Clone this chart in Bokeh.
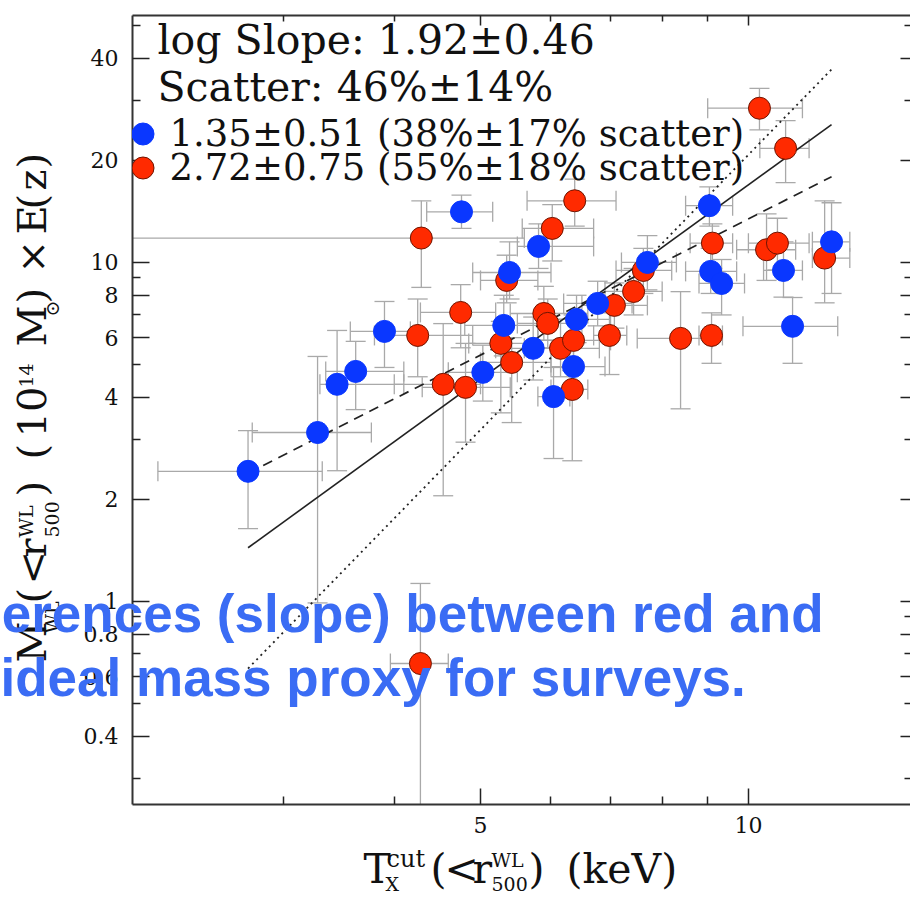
import math
from bokeh.plotting import figure
from bokeh.models import (Range1d, LogAxis, FixedTicker, Label, Legend, LegendItem,
                          ColumnDataSource)
from bokeh.embed import file_html
from bokeh.resources import INLINE

# ---------------- data ----------------
T_blue = [2.74, 3.28, 3.45, 3.62, 3.90, 4.76, 5.03, 5.31, 5.39, 5.73, 5.81, 6.04, 6.36, 6.41, 6.77, 7.70,
          9.04, 9.07, 9.33, 10.95, 11.21, 12.40]
M_blue = [2.42, 3.15, 4.37, 4.77, 6.26, 14.1, 4.74, 6.52, 9.34, 5.58, 11.15, 4.02, 4.93, 6.79, 7.57, 10.0,
          14.7, 9.41, 8.67, 9.47, 6.48, 11.5]
T_blue_lo = [2.17, 2.77, 3.30, 3.35, 3.57, 4.35, 4.6, 4.8, 4.9, 5.2, 5.5, 5.8, 6.0, 5.9, 6.2, 7.2,
             8.5, 8.5, 8.8, 10.4, 9.86, 11.8]
T_blue_hi = [3.32, 3.77, 4.1, 4.1, 4.17, 5.16, 5.5, 5.8, 6.0, 6.3, 6.7, 6.3, 6.9, 7.0, 7.4, 8.3,
             9.6, 9.7, 9.9, 11.5, 12.6, 13.0]
M_blue_lo = [1.64, 0.99, 2.43, 3.68, 4.90, 12.6, 3.9, 5.3, 7.8, 4.5, 9.6, 2.64, 4.2, 5.8, 6.5, 8.3,
             12.8, 8.1, 7.0, 7.9, 5.04, 8.1]
M_blue_hi = [3.19, 5.28, 6.30, 5.85, 7.67, 15.8, 5.7, 8.0, 11.5, 6.9, 13.0, 4.9, 5.9, 8.0, 8.8, 12.0,
             16.7, 11.0, 10.2, 11.5, 7.88, 15.0]

T_red = [4.29, 6.38, 6.02, 4.75, 4.25, 4.54, 4.81, 5.35, 5.27, 5.42, 5.89, 5.95, 6.15, 6.36, 6.34, 7.07,
         7.43, 7.62, 6.98, 8.39, 9.09, 9.11, 10.48, 10.78, 12.18, 10.29, 11.01, 4.28]
M_red = [11.8, 15.2, 12.6, 7.12, 6.09, 4.37, 4.28, 8.85, 5.77, 5.07, 7.07, 6.61, 5.58, 5.89, 4.22, 7.47,
         8.21, 9.47, 6.09, 5.97, 6.09, 11.4, 10.9, 11.4, 10.3, 28.5, 21.7, 0.656]
T_red_lo = [1.5, 5.64, 5.57, 4.28, 3.8, 4.0, 4.3, 5.0, 4.85, 5.0, 5.4, 5.5, 5.6, 5.8, 6.0, 6.5,
            6.9, 7.1, 6.7, 7.5, 8.8, 8.6, 9.7, 10.0, 11.8, 9.0, 10.3, 3.96]
T_red_hi = [5.6, 7.10, 6.7, 5.2, 4.9, 5.0, 5.4, 5.8, 5.8, 6.0, 6.6, 6.5, 6.8, 7.0, 6.6, 7.7,
            8.0, 8.2, 7.3, 9.1, 9.35, 9.6, 11.3, 11.7, 13.0, 11.5, 11.7, 4.60]
M_red_lo = [8.44, 12.8, 10.1, 5.6, 4.6, 2.05, 2.95, 7.6, 3.6, 3.37, 5.9, 5.6, 4.6, 4.9, 2.6, 6.4,
            7.0, 8.1, 4.67, 3.7, 5.04, 9.6, 8.85, 9.5, 7.6, 24.6, 17.2, 0.2]
M_red_hi = [15.2, 17.6, 14.8, 8.6, 7.8, 6.6, 5.77, 10.5, 6.7, 6.0, 8.5, 7.8, 6.8, 7.0, 4.8, 8.7,
            9.6, 11.0, 7.1, 8.2, 7.1, 13.0, 13.9, 13.5, 15.2, 32.6, 26.2, 1.13]

# fit lines (end points)
fit_T = [2.74, 12.40]
fit_all_M = [1.44, 25.5]      # solid, all clusters
fit_blue_M = [2.39, 17.9]     # dashed
fit_red_M = [0.634, 37.1]     # dotted

x_ticks = [5, 10]
x_minor = [3, 4, 6, 7, 8, 9]
y_ticks = [0.4, 0.6, 0.8, 1, 2, 4, 6, 8, 10, 20, 40]
y_tick_labels = ["0.4", "0.6", "0.8", "1", "2", "4", "6", "8", "10", "20", "40"]
y_minor = [0.3, 0.5, 0.7, 0.9, 3, 5, 7, 9, 30, 50]

txt_slope = "log Slope: 1.92\u00b10.46"
txt_scatter = "Scatter: 46%\u00b114%"
txt_blue = "1.35\u00b10.51 (38%\u00b117% scatter)"
txt_red = "2.72\u00b10.75 (55%\u00b118% scatter)"
overlay_1 = "erences (slope) between red and"
overlay_2 = "ideal mass proxy for surveys."

# ---------------- styles ----------------
BLUE = "#0a37ff"
RED = "#ff2a00"
RED_EDGE = "#6e1400"
ERR = "#a9a9a9"
SERIF = "DejaVu Serif"
TICK_FONT = "22px"
BASE_K = 0.37   # baseline correction (fraction of font size)
W, H = 910, 897

p = figure(width=W, height=H, x_axis_type="log", y_axis_type="log",
           x_range=Range1d(2.032, 15.21), y_range=Range1d(0.2518, 53.5),
           output_backend="svg", toolbar_location=None,
           min_border_left=132, min_border_right=0, min_border_top=15, min_border_bottom=93)
p.outline_line_color = None
p.xgrid.visible = False
p.ygrid.visible = False
p.background_fill_color = "white"
p.border_fill_color = "white"
p.margin = 0

xt = FixedTicker(ticks=x_ticks, minor_ticks=x_minor)
yt = FixedTicker(ticks=y_ticks, minor_ticks=y_minor)


def style_axis(ax, show_labels, major_len, minor_len):
    ax.major_tick_in = major_len
    ax.major_tick_out = 0
    ax.minor_tick_in = minor_len
    ax.minor_tick_out = 0
    ax.major_tick_line_color = "#222222"
    ax.minor_tick_line_color = "#222222"
    ax.major_tick_line_width = 1.5
    ax.minor_tick_line_width = 1.5
    ax.axis_line_color = "#333333"
    ax.axis_line_width = 2
    if show_labels:
        ax.major_label_text_font = SERIF
        ax.major_label_text_font_size = TICK_FONT
        ax.major_label_text_color = "#111111"
    else:
        ax.major_label_text_font_size = "1px"
        ax.major_label_text_color = None
        ax.major_label_standoff = 0


xa = p.below[0]
xa.ticker = xt
style_axis(xa, True, 16, 8)
xa.major_label_standoff = 12

ya = p.left[0]
ya.ticker = yt
style_axis(ya, True, 17, 8)
ya.major_label_standoff = 14
ya.major_label_overrides = {v: s for v, s in zip(y_ticks, y_tick_labels)}

top_ax = LogAxis(ticker=xt)
style_axis(top_ax, False, 10, 6)
p.add_layout(top_ax, "above")

right_ax = LogAxis(ticker=yt)
style_axis(right_ax, False, 10, 6)
right_ax.axis_line_color = None
p.add_layout(right_ax, "right")

# ---------------- error bars ----------------
src_b = ColumnDataSource(dict(T=T_blue, M=M_blue, Tlo=T_blue_lo, Thi=T_blue_hi, Mlo=M_blue_lo, Mhi=M_blue_hi))
src_r = ColumnDataSource(dict(T=T_red, M=M_red, Tlo=T_red_lo, Thi=T_red_hi, Mlo=M_red_lo, Mhi=M_red_hi))

for src in (src_b, src_r):
    p.segment(x0="Tlo", y0="M", x1="Thi", y1="M", source=src, line_color=ERR, line_width=1.3)
    p.segment(x0="T", y0="Mlo", x1="T", y1="Mhi", source=src, line_color=ERR, line_width=1.3)
    for xc, yc, ang in (("Tlo", "M", math.pi / 2), ("Thi", "M", math.pi / 2), ("T", "Mlo", 0), ("T", "Mhi", 0)):
        p.scatter(x=xc, y=yc, source=src, marker="dash", angle=ang, size=20,
                  line_color=ERR, line_width=1.3)

# ---------------- fit lines ----------------
p.line(fit_T, fit_red_M, line_color="#222222", line_width=1.8, line_dash="2 4")
p.line(fit_T, fit_all_M, line_color="#222222", line_width=1.6)
p.line(fit_T, fit_blue_M, line_color="#222222", line_width=1.7, line_dash="10 7")

# ---------------- points ----------------
r_red = p.scatter(x="T", y="M", source=src_r, size=22, fill_color=RED, line_color=RED_EDGE, line_width=1)
r_blue = p.scatter(x="T", y="M", source=src_b, size=22, fill_color=BLUE, line_color=BLUE, line_width=1)


def canvas_label(fig, text, x, y, size_px, font=SERIF, angle=0.0, align="left", color="#111111",
                 style="normal"):
    """Text anchored at its alphabetic baseline (x, y) in canvas pixels."""
    shift = BASE_K * size_px
    if angle == 0:
        y = y - shift
    else:
        x = x - shift
    fig.add_layout(Label(x=x, y=y, x_units="canvas", y_units="canvas", text=text, text_font=font,
                         text_font_size=f"{size_px}px", text_color=color, text_font_style=style,
                         text_baseline="alphabetic", text_align=align, angle=angle))


# ---------------- in-frame legend texts ----------------
canvas_label(p, txt_slope, 157, 55, 41)
canvas_label(p, txt_scatter, 157, 102, 41)


def make_legend(item_label, renderer, loc):
    lg = Legend(items=[LegendItem(label=item_label, renderers=[renderer])], location=loc,
                glyph_width=55, glyph_height=55, label_standoff=0, padding=0, margin=0, spacing=0,
                border_line_color=None, background_fill_alpha=0,
                label_text_font=SERIF, label_text_font_size="37px", label_text_color="#111111")
    p.add_layout(lg)


make_legend(txt_blue, r_blue, (-17.5, 643.5))
make_legend(txt_red, r_red, (-17.5, 609.5))

# ---------------- transparent overlay figure (separate root) for texts outside the frame ----------------
ov = figure(width=W, height=H, x_range=Range1d(0, W), y_range=Range1d(H, 0),
            output_backend="svg", toolbar_location=None, x_axis_location=None, y_axis_location=None,
            min_border=0, min_border_left=0, min_border_right=0, min_border_top=0, min_border_bottom=0)
ov.background_fill_alpha = 0
ov.border_fill_alpha = 0
ov.outline_line_color = None
ov.grid.visible = False
ov.margin = (-H, 0, 0, 0)

BIG = 41
x_pieces = [("T", 363, 884, BIG), ("cut", 386, 867, 24), ("X", 385, 891, 19),
            ("(", 430, 884, BIG), ("<", 444, 884, BIG), ("r", 472, 884, BIG),
            ("WL", 491, 867, 19), ("500", 491, 891, 19),
            (")", 528, 884, BIG), ("(keV)", 566, 884, BIG)]
for t, x, y, s in x_pieces:
    canvas_label(ov, t, x, y, s)

YB, YSUP, YSUB = 46, 33, 59
y_pieces = [("M", YB, 662, 40), ("WL", YSUB, 633, 19), ("(", YB, 603, 40), ("<", YB, 584, 40),
            ("r", YB, 557, 40), ("WL", YSUP, 537, 19), ("500", YSUB, 537, 19), (")", YB, 496, 40),
            ("(", YB, 459, 40), ("10", YB, 437, 40), ("14", YSUP, 387, 19), ("M", YB, 346, 40),
            ("\u2299", YSUB, 316, 19), (")", YB, 303, 40), ("\u00d7", YB, 273, 40),
            ("E", YB, 234, 40), ("(", YB, 209, 40), ("z", YB, 190, 40), (")", YB, 168, 40)]
for t, x, y, s in y_pieces:
    canvas_label(ov, t, x, y, s, angle=math.pi / 2)

OV = "#3a6cf4"
canvas_label(ov, overlay_1, 823, 633, 53, font="Liberation Sans", align="right", color=OV, style="bold")
canvas_label(ov, overlay_2, 0, 697, 53, font="Liberation Sans", align="left", color=OV, style="bold")

open("out.html", "w").write(file_html([p, ov], INLINE))
